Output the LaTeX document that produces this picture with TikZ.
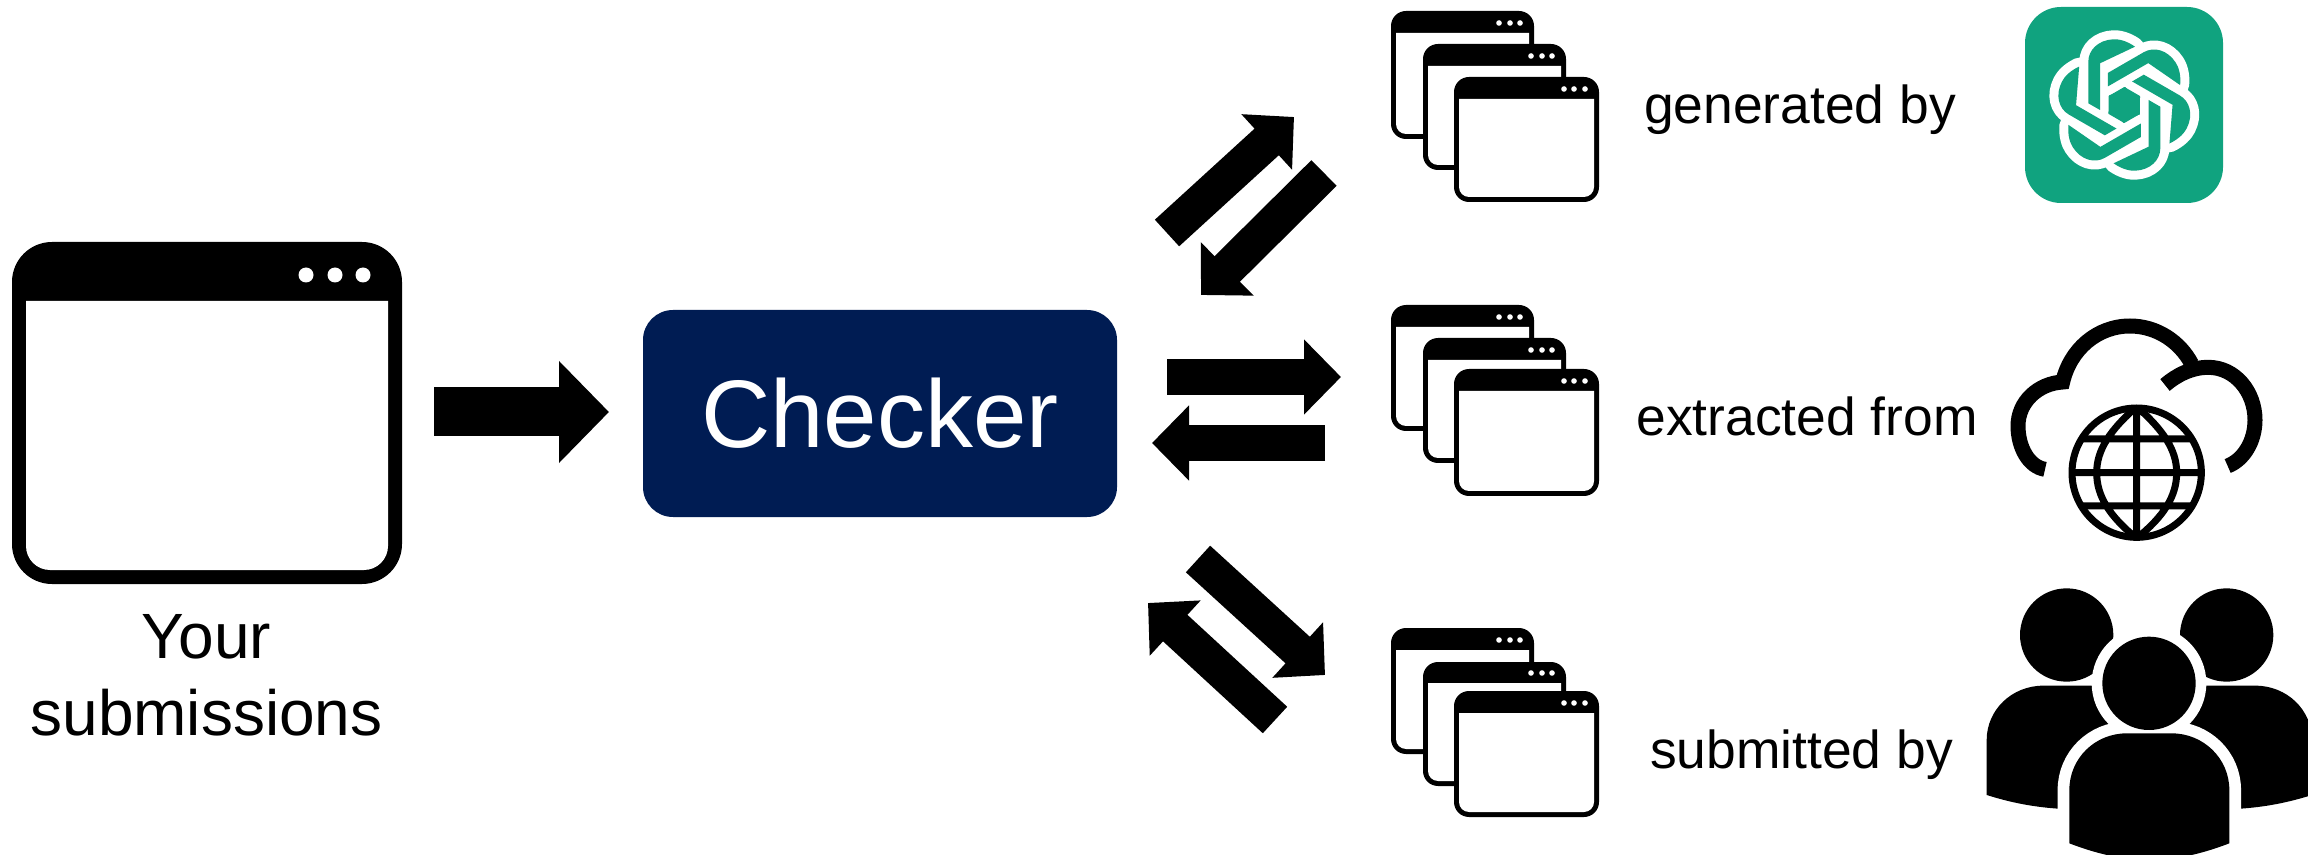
\documentclass[tikz,border=0pt]{standalone}
\usepackage{fontspec}
\setmainfont{Liberation Sans}
\usetikzlibrary{arrows.meta}
\definecolor{navy}{HTML}{001C53}
\definecolor{gptgreen}{HTML}{10A37F}
\tikzset{
  px/.style={x=0.5pt,y=-0.5pt},
  blockarrow/.style={draw=black,line width=18pt,-{Triangle[length=18.5pt,width=36.5pt]}},
  mainarrow/.style={draw=black,line width=24.5pt,-{Triangle[length=25pt,width=49.5pt]}},
  labeltext/.style={inner sep=0pt,anchor=base,text=black,font=\fontsize{26.7}{30}\selectfont},
  checkerbox/.style={fill=navy,rounded corners=15pt,minimum width=237pt,minimum height=103.5pt,inner sep=0pt,text=white,font=\fontsize{48}{52}\selectfont},
  yourtext/.style={inner sep=0pt,align=center,text=black,font=\fontsize{32}{38.5}\selectfont},
  zoomed/.style={xscale=0.33333,yscale=0.33333},
}
% left, top, right, bottom, border, title bottom, outer radius, inner radius
\newcommand\appwin[8]{%
  \fill[black,rounded corners={#7*0.5pt}] (#1,#2) rectangle (#3,#4);
  \fill[white] ({#1+#5},#6) -- ({#3-#5},#6) -- ({#3-#5},{#4-#5-#8})
    .. controls ({#3-#5},{#4-#5-0.45*#8}) and ({#3-#5-0.45*#8},{#4-#5}) .. ({#3-#5-#8},{#4-#5})
    -- ({#1+#5+#8},{#4-#5})
    .. controls ({#1+#5+0.45*#8},{#4-#5}) and ({#1+#5},{#4-#5-0.45*#8}) .. ({#1+#5},{#4-#5-#8})
    -- cycle;
}
\newcommand\windots[5]{% x1,x2,x3,y,r
  \fill[white] (#1,#4) circle[radius=#5] (#2,#4) circle[radius=#5] (#3,#4) circle[radius=#5];
}
% top, title bottom, bottom, dot y for each of the three windows
\newcommand\winA[4]{\appwin{1391}{#1}{1534}{#3}{5}{#2}{15}{10}\windots{1499}{1510}{1520}{#4}{2.8}}
\newcommand\winB[4]{\appwin{1423}{#1}{1566}{#3}{5}{#2}{15}{10}\windots{1531}{1542}{1552}{#4}{2.8}}
\newcommand\winC[4]{\appwin{1454}{#1}{1599}{#3}{5}{#2}{15}{10}\windots{1564}{1574}{1585}{#4}{2.8}}
\begin{document}
\begin{tikzpicture}[px]
\clip (0,0) rectangle (2308,855);
\fill[white] (0,0) rectangle (2308,855);

% big window
\appwin{12}{242}{402}{584}{14}{301}{40}{24}
\windots{306}{335}{363}{275}{7.5}
\node[yourtext] (your) at (206.5,675) {Your\\submissions};

% checker
\node[checkerbox] (checker) at (880,413.5) {Checker};

% stacks
\winA{11}{33}{139}{23}\winB{44}{66}{170}{56}\winC{77}{99}{202}{89}
\winA{305}{327}{431}{317}\winB{338}{360}{463}{350}\winC{369}{391}{496}{381}
\winA{628}{650}{754}{640}\winB{662}{683}{786}{673}\winC{691}{713}{817}{703}

% labels
\node[labeltext] (lab1) at (1800,124) {generated by};
\node[labeltext] (lab2) at (1807,436) {extracted from};
\node[labeltext] (lab3) at (1801.5,768) {submitted by};

% arrows
\coordinate (m0) at (434,412); \coordinate (m1) at (609,412);
\draw[mainarrow] (m0) -- (m1);
\coordinate (a0) at (1167,233); \coordinate (a1) at (1294,117);
\draw[blockarrow] (a0) -- (a1);
\coordinate (b0) at (1324,173); \coordinate (b1) at (1201,295);
\draw[blockarrow] (b0) -- (b1);
\coordinate (c0) at (1167,377); \coordinate (c1) at (1341,377);
\draw[blockarrow] (c0) -- (c1);
\coordinate (d0) at (1325,443); \coordinate (d1) at (1152,443);
\draw[blockarrow] (d0) -- (d1);
\coordinate (e0) at (1198,559); \coordinate (e1) at (1325,675);
\draw[blockarrow] (e0) -- (e1);
\coordinate (f0) at (1275,720); \coordinate (f1) at (1148,603);
\draw[blockarrow] (f0) -- (f1);

% logo
\fill[gptgreen,rounded corners=18pt] (2025,7) rectangle (2223,203);
\def\hookpath{(10.7,-58.3) .. controls (2,-64.5) and (-6,-66) .. (-11,-65.7) .. controls (-26,-65) and (-36,-55) .. (-36,-43.3) -- (-36,-1.7) -- (-24.3,5) -- (-24.3,-41.7) -- cycle}
\begin{scope}[shift={(2124.3,105)}]
  \foreach \a in {0,60,...,300}
    \draw[white,line width=9pt,line join=round,rotate=\a] \hookpath;
  \foreach \a in {0,60,...,300}
    \fill[gptgreen,rotate=\a] \hookpath;
  \fill[gptgreen] (90:18) -- (30:18) -- (-30:18) -- (-90:18) -- (-150:18) -- (150:18) -- cycle;
\end{scope}

% cloud and globe (zoom coordinates)
\begin{scope}[shift={(1950,290)},zoomed]
  \draw[black,line width=7.5pt,line join=miter]
    (285,538) .. controls (235,530) and (204,470) .. (204,408)
    .. controls (204,335) and (265,280) .. (338,276)
    .. controls (360,180) and (440,108) .. (540,108)
    .. controls (620,108) and (690,155) .. (725,222);
  \draw[black,line width=7.5pt]
    (645,285) .. controls (680,255) and (725,232) .. (775,232)
    .. controls (855,232) and (915,305) .. (915,390)
    .. controls (915,455) and (880,510) .. (833,528);
  \begin{scope}
    \clip (560,548) circle[radius=200];
    \draw[black,line width=3.5pt]
      (560,340) -- (560,750)
      (350,548) -- (770,548)
      (350,447) -- (770,447)
      (350,648) -- (770,648)
      (560,350) .. controls (480,420) and (440,480) .. (440,548) .. controls (440,620) and (480,680) .. (560,745)
      (560,350) .. controls (640,420) and (680,480) .. (680,548) .. controls (680,620) and (640,680) .. (560,745);
  \end{scope}
  \draw[black,line width=3.5pt] (560,548) circle[radius=194];
\end{scope}

% people (zoom coordinates)
\begin{scope}[shift={(1950,570)},zoomed]
  \fill[black] (350,195) circle[radius=140];
  \fill[black] (830,195) circle[radius=140];
  \fill[black] (110,675) -- (110,510) .. controls (110,420) and (185,347) .. (280,347) -- (916,347)
     .. controls (1011,347) and (1086,420) .. (1086,510) -- (1086,675)
     .. controls (1016,697) and (946,712) .. (856,717) -- (340,717)
     .. controls (250,712) and (180,697) .. (110,675) -- cycle;
  \def\bodypath{(358,820) -- (358,660) .. controls (358,565) and (435,490) .. (530,490) -- (665,490)
     .. controls (760,490) and (838,565) .. (838,660) -- (838,820)
     .. controls (760,850) and (680,870) .. (598,870) .. controls (516,870) and (436,850) .. (358,820) -- cycle}
  \fill[white] (597,340) circle[radius=172];
  \draw[white,line width=11.7pt,line join=round] \bodypath;
  \fill[white] \bodypath;
  \fill[white] (500,400) rectangle (700,520);
  \fill[black] (597,340) circle[radius=140];
  \fill[black] \bodypath;
\end{scope}
\end{tikzpicture}
\end{document}
